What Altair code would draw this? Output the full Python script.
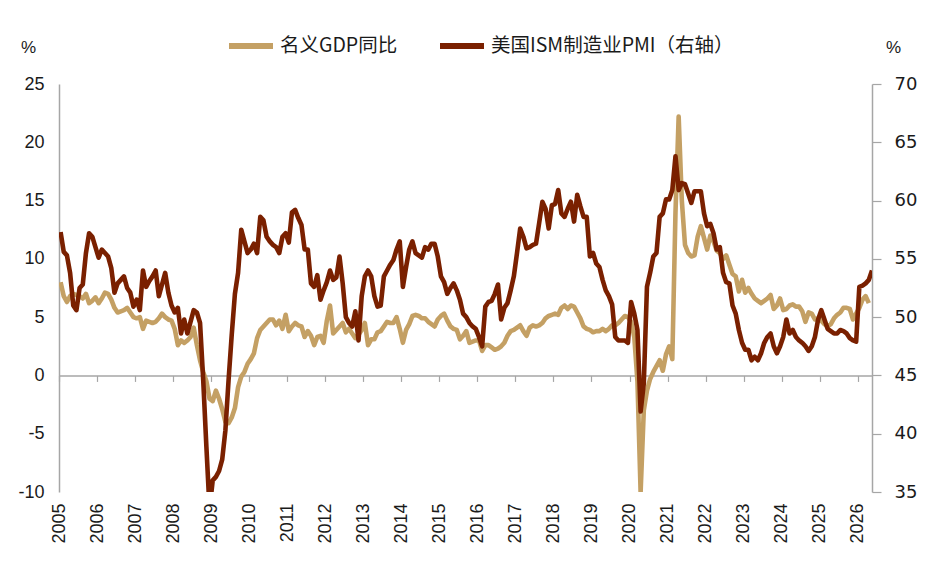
import altair as alt
import pandas as pd

# ---------------- data (monthly, Jan 2005 .. May 2026) ----------------
start_year = 2005
x_tick_years = list(range(2005, 2027))
left_ticks = list(range(-10, 30, 5))
right_ticks = list(range(35, 75, 5))
series_names = ["名义GDP同比", "美国ISM制造业PMI（右轴）"]
series_colors = ["#C4A064", "#7A2000"]

gdp_yoy = [
    8.0, 6.8, 6.3, 6.8, 7.0, 6.9, 6.8, 6.6, 7.0, 6.2, 6.4, 6.7,        # 2005
    6.2, 6.6, 7.1, 7.0, 6.5, 5.8, 5.4, 5.5, 5.6, 5.8, 5.4, 5.0,        # 2006
    4.9, 5.0, 4.0, 4.7, 4.6, 4.5, 4.6, 4.9, 5.3, 5.0, 4.8, 4.7,        # 2007
    4.0, 2.6, 3.0, 2.8, 3.0, 3.3, 4.1, 2.6, 1.3, 0.3, -0.5, -2.0,      # 2008
    -2.2, -1.3, -2.0, -2.9, -4.0, -4.1, -3.6, -2.8, -1.0, -0.1, 0.3, 1.0,  # 2009
    1.4, 1.9, 3.2, 3.9, 4.2, 4.5, 4.8, 4.8, 4.3, 4.7, 4.0, 5.2,        # 2010
    3.8, 4.2, 4.5, 4.3, 4.2, 3.3, 3.8, 3.4, 2.6, 3.3, 3.4, 2.8,        # 2011
    4.7, 6.0, 3.6, 3.9, 4.2, 4.5, 3.7, 4.0, 3.6, 3.2, 3.5, 3.9,        # 2012
    4.5, 2.6, 3.1, 3.1, 3.7, 3.8, 4.2, 4.6, 4.5, 4.5, 5.0, 4.0,        # 2013
    2.8, 3.9, 4.4, 5.1, 5.2, 5.1, 4.9, 4.9, 4.6, 4.4, 4.2, 4.8,        # 2014
    5.1, 5.3, 4.7, 4.2, 4.0, 3.9, 3.1, 3.4, 3.8, 2.8, 2.9, 3.0,        # 2015
    3.0, 2.1, 2.6, 2.6, 2.4, 2.2, 2.3, 2.5, 2.8, 3.4, 3.8, 3.9,        # 2016
    4.1, 4.3, 3.8, 3.4, 4.1, 4.3, 4.2, 4.3, 4.5, 4.9, 5.1, 5.2,        # 2017
    5.3, 5.2, 5.8, 6.0, 5.7, 6.0, 5.9, 5.4, 4.9, 4.2, 4.0, 3.9,        # 2018
    3.7, 3.8, 3.8, 4.0, 3.8, 4.0, 4.3, 4.3, 4.5, 4.8, 5.1, 5.0,        # 2019
    4.6, 3.3, -0.5, -10.0, -3.0, -1.3, -0.3, 0.3, 0.8, 1.3, 0.4, 1.8,  # 2020
    2.5, 1.4, 14.0, 22.2, 15.0, 11.2, 10.5, 10.2, 10.3, 11.9, 12.8, 11.8,  # 2021
    10.8, 12.0, 11.5, 10.7, 10.5, 10.0, 10.3, 9.5, 8.7, 8.5, 7.2, 8.2,  # 2022
    7.1, 7.5, 7.0, 6.6, 6.4, 6.2, 6.4, 6.6, 6.9, 5.7, 6.0, 6.6,        # 2023
    5.6, 5.7, 6.0, 6.1, 5.9, 5.9, 5.5, 4.6, 5.4, 5.3, 4.8, 4.9,        # 2024
    4.7, 4.4, 4.2, 4.4, 4.9, 5.2, 5.4, 5.8, 5.8, 5.7, 4.8, 5.3,        # 2025
    5.8, 6.5, 6.8, 6.2,                                                # 2026
]

ism_pmi = [
    57.3, 55.6, 55.3, 53.8, 51.0, 50.6, 52.5, 52.8, 55.5, 57.2, 56.9, 56.0,  # 2005
    55.1, 55.8, 55.5, 55.2, 54.2, 52.1, 52.9, 53.2, 53.5, 52.5, 52.1, 50.9,  # 2006
    51.5, 50.6, 54.0, 52.6, 53.1, 53.5, 54.0, 51.8, 52.8, 53.8, 52.1, 51.0,  # 2007
    50.4, 50.8, 48.6, 49.8, 48.6, 49.6, 50.6, 50.4, 49.5, 44.6, 38.9, 33.5,  # 2008
    36.0, 36.3, 36.8, 37.8, 40.3, 44.6, 48.5, 52.0, 53.8, 57.5, 56.5, 55.5,  # 2009
    55.8, 56.3, 55.5, 58.6, 58.3, 56.9, 56.5, 56.2, 56.0, 55.5, 56.9, 57.2,  # 2010
    56.4, 59.0, 59.2, 58.5, 57.9, 55.8, 55.8, 52.9, 52.6, 53.6, 51.5, 52.3,  # 2011
    53.0, 54.0, 53.2, 53.4, 55.2, 52.9, 50.0, 49.5, 49.2, 50.5, 48.0, 51.8,  # 2012
    53.5, 54.0, 53.5, 51.8, 50.9, 51.0, 53.5, 54.0, 54.5, 54.9, 55.8, 56.5,  # 2013
    52.6, 54.3, 55.8, 56.5, 55.5, 55.3, 55.1, 56.0, 55.8, 56.3, 56.3, 55.2,  # 2014
    53.5, 53.0, 52.0, 52.5, 52.9, 52.3, 51.5, 50.3, 50.0, 49.5, 49.2, 49.0,  # 2015
    48.3, 47.5, 50.9, 51.3, 51.4, 52.0, 52.8, 49.8, 50.8, 51.2, 52.3, 53.5,  # 2016
    55.5, 57.6, 56.9, 55.9, 56.0, 56.2, 56.3, 58.1, 59.9, 59.3, 57.6, 59.6,  # 2017
    59.7, 60.9, 58.9, 58.6, 59.3, 59.9, 58.2, 60.5, 59.5, 58.6, 58.6, 55.2,  # 2018
    55.5, 54.6, 54.3, 53.2, 52.3, 51.8, 51.1, 48.3, 48.0, 48.0, 48.0, 47.8,  # 2019
    51.3, 50.3, 48.9, 41.9, 44.3, 52.6, 53.8, 55.2, 55.5, 58.6, 58.9, 60.1,  # 2020
    60.1, 60.9, 63.8, 60.9, 61.5, 61.4, 60.6, 59.8, 60.8, 60.8, 60.8, 58.9,  # 2021
    57.8, 58.0, 57.2, 55.8, 56.0, 53.8, 53.0, 52.9, 51.0, 50.3, 48.9, 47.8,  # 2022
    47.2, 47.2, 46.3, 46.6, 46.3, 46.9, 47.8, 48.3, 48.6, 47.5, 46.9, 47.5,  # 2023
    48.3, 49.8, 48.6, 48.9, 48.3, 48.0, 47.8, 47.5, 47.1, 47.5, 48.3, 49.8,  # 2024
    50.6, 49.8, 49.0, 48.8, 48.6, 48.6, 48.9, 48.8, 48.6, 48.2, 48.0, 47.9,  # 2025
    52.6, 52.7, 52.9, 53.2, 54.0,                                          # 2026
]

# ---------------- table ----------------
rows = []
for i, v in enumerate(gdp_yoy):
    rows.append({"t": start_year + (i + 0.5) / 12, "series": series_names[0], "value": v})
for i, v in enumerate(ism_pmi):
    rows.append({"t": start_year + (i + 0.5) / 12, "series": series_names[1], "value": v})
df = pd.DataFrame(rows)

x_end = start_year + len(ism_pmi) / 12 - 0.5 / 12
x_scale = alt.Scale(domain=[start_year, x_end], nice=False, zero=False)

AXIS_GRAY = "#A6A6A6"
TXT = "#1a1a1a"
PLOT_W, PLOT_H = 813, 408
zero_offset = -(PLOT_H * 10 / 35)
plain_label = "'' + datum.value"

color_enc = alt.Color(
    "series:N",
    scale=alt.Scale(domain=series_names, range=series_colors),
    legend=alt.Legend(
        orient="none", legendX=167, legendY=-63, direction="horizontal",
        title=None, symbolType="stroke", symbolSize=1936, symbolStrokeWidth=6,
        labelFont="Noto Sans CJK SC", labelFontSize=19.5, labelColor=TXT,
        labelLimit=0, labelOffset=4, columnPadding=30, padding=0,
    ),
)

base = alt.Chart(df)

gdp_layer = base.transform_filter(
    alt.datum.series == series_names[0]
).mark_line(strokeWidth=4.6, clip=True, strokeJoin="round").encode(
    x=alt.X("t:Q", scale=x_scale, axis=alt.Axis(
        orient="bottom", values=x_tick_years, labels=False, grid=False, title=None,
        domain=True, domainColor=AXIS_GRAY, domainWidth=1.5,
        ticks=True, tickColor=AXIS_GRAY, tickSize=6, tickWidth=1.2,
        offset=zero_offset,
    )),
    y=alt.Y("value:Q", scale=alt.Scale(domain=[-10, 25], nice=False, zero=False), axis=alt.Axis(
        orient="left", values=left_ticks, grid=False, labelExpr=plain_label,
        domain=True, domainColor=AXIS_GRAY, domainWidth=1.5,
        ticks=False, tickSize=0, labelPadding=15,
        labelFont="Liberation Sans", labelFontSize=18, labelColor=TXT,
        title="%", titleAngle=0, titleX=-31, titleY=-37, titleAlign="center",
        titleBaseline="middle", titleFont="Liberation Sans", titleFontSize=17,
        titleFontWeight="normal", titleColor=TXT,
    )),
    color=color_enc,
)

pmi_layer = base.transform_filter(
    alt.datum.series == series_names[1]
).mark_line(strokeWidth=4.6, clip=True, strokeJoin="round").encode(
    x=alt.X("t:Q", scale=x_scale, axis=alt.Axis(
        orient="bottom", values=x_tick_years, labelExpr=plain_label, grid=False, title=None,
        domain=False, ticks=False, tickSize=0, labelAngle=270, labelPadding=11,
        labelFont="Liberation Sans", labelFontSize=18, labelColor=TXT,
    )),
    y=alt.Y("value:Q", scale=alt.Scale(domain=[35, 70], nice=False, zero=False), axis=alt.Axis(
        orient="right", values=right_ticks, grid=False, labelExpr=plain_label,
        domain=True, domainColor=AXIS_GRAY, domainWidth=1.5,
        ticks=True, tickColor=AXIS_GRAY, tickSize=9, tickWidth=1.2, labelPadding=13,
        labelFont="DejaVu Sans", labelFontSize=18, labelColor=TXT,
        title="%", titleAngle=0, titleX=21, titleY=-37, titleAlign="center",
        titleBaseline="middle", titleFont="Liberation Sans", titleFontSize=17,
        titleFontWeight="normal", titleColor=TXT,
    )),
    color=color_enc,
)

chart = alt.layer(gdp_layer, pmi_layer).resolve_scale(
    y="independent"
).resolve_axis(
    x="independent"
).properties(
    width=PLOT_W, height=PLOT_H,
    autosize=alt.AutoSizeParams(type="none"),
    padding={"left": 59, "top": 84, "right": 67, "bottom": 72},
    background="white",
).configure_view(stroke=None)

chart.save("out.html", embed_options={"renderer": "svg", "actions": False})
